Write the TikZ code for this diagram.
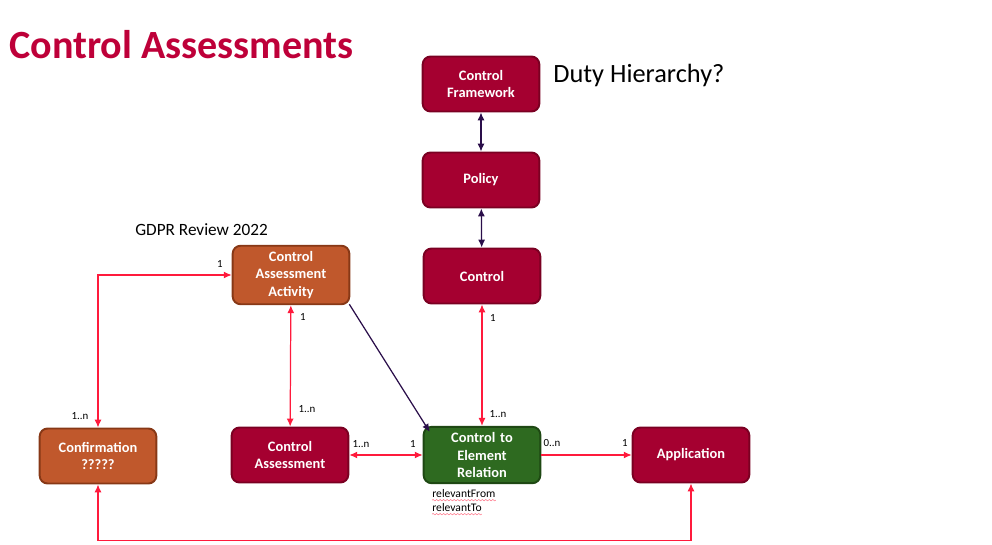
\documentclass[tikz,border=0pt]{standalone}
\usepackage{fontspec}
\setmainfont{Carlito}
\usepackage{xcolor}
\usetikzlibrary{arrows.meta,decorations.pathmorphing}

\definecolor{ctrlred}{HTML}{A50030}
\definecolor{ctrlredline}{HTML}{7A0022}
\definecolor{actorange}{HTML}{C0582C}
\definecolor{actorangeline}{HTML}{873816}
\definecolor{relgreen}{HTML}{2E6A20}
\definecolor{relgreenline}{HTML}{1E4813}
\definecolor{relred}{HTML}{FF1A3C}
\definecolor{dutypurple}{HTML}{2A0E4A}
\definecolor{titlered}{HTML}{BE0039}

\tikzset{
  entity/.style={draw, line width=1.1pt, rounded corners=4.5pt,
    minimum width=2.2cm, minimum height=1.1cm, text width=2.1cm,
    align=center, text=white, font=\fontsize{8.2}{9.8}\selectfont\bfseries},
  ctrlbox/.style={entity, fill=ctrlred, draw=ctrlredline},
  actbox/.style={entity, fill=actorange, draw=actorangeline},
  relbox/.style={entity, fill=relgreen, draw=relgreenline},
  relline/.style={relred, line width=0.7pt},
  dutyline/.style={dutypurple, line width=0.7pt},
  card/.style={font=\fontsize{6.2}{7}\selectfont, inner sep=0pt}
}

\begin{document}
\begin{tikzpicture}[x=0.02cm, y=-0.02cm, >={Latex[length=4.5pt,width=4pt]}]
  \useasboundingbox (0,0) rectangle (992,545);

  % headings
  \node[anchor=west, text=titlered, inner sep=0pt, font=\fontsize{22.8}{26}\selectfont\bfseries] (title) at (9,45) {Control Assessments};
  \node[anchor=west, inner sep=0pt, font=\fontsize{15}{17}\selectfont] (duty) at (553,75) {Duty Hierarchy?};
  \node[anchor=west, inner sep=0pt, font=\fontsize{9.8}{11}\selectfont] (gdpr) at (135,230) {GDPR Review 2022};

  % duty hierarchy
  \node[ctrlbox] (fw) at (481,84) {Control\\Framework};
  \node[ctrlbox] (pol) at (481,180) {Policy};
  \node[ctrlbox] (ctrl) at (482,276) {Control};

  % assessment side
  \node[actbox] (caa) at (291,275) {Control\\Assessment\\Activity};
  \node[actbox] (conf) at (98,456) {Confirmation\\?????};
  \node[ctrlbox] (ca) at (290,455) {Control\\Assessment};
  \node[relbox] (cter) at (482,455) {Control to\\Element\\Relation};
  \node[ctrlbox] (app) at (691,455) {Application};

  % relations
  \draw[dutyline, <->] (fw) -- (pol);
  \draw[dutyline, <->] (pol) -- (ctrl);
  \draw[relline, <->] (ctrl) -- (cter);
  \draw[relline, <->] (caa) -- (ca);
  \draw[relline, <->] (ca) -- (cter);
  \draw[relline, ->] (cter) -- (app);
  \draw[dutyline, ->] ([shift={(-1,-1)}]caa.south east) -- ([shift={(7,6)}]cter.north west);
  \draw[relline, <->] (conf.north) |- (caa.west);
  \draw[relline, <->] (conf.south) -- ++(0,56) -| (app.south);

  % multiplicities
  \node[card] (m1) at (220,264) {1};
  \node[card] (m2) at (80,416) {1..n};
  \node[card] (m3) at (303,317) {1};
  \node[card] (m4) at (307,409) {1..n};
  \node[card] (m5) at (361,444) {1..n};
  \node[card] (m6) at (413,444) {1};
  \node[card] (m7) at (493,318) {1};
  \node[card] (m8) at (498,414) {1..n};
  \node[card] (m9) at (552,443) {0..n};
  \node[card] (m10) at (625,443) {1};

  % attributes
  \node[anchor=west, inner sep=0pt, font=\fontsize{6.6}{8}\selectfont] (from) at (432,494) {relevantFrom};
  \node[anchor=west, inner sep=0pt, font=\fontsize{6.6}{8}\selectfont] (to) at (432,508) {relevantTo};
  \draw[relred!60, line width=0.3pt, decorate, decoration={snake, amplitude=0.4pt, segment length=2pt}]
    ([yshift=-1pt]from.south west) -- ([yshift=-1pt]from.south east);
  \draw[relred!60, line width=0.3pt, decorate, decoration={snake, amplitude=0.4pt, segment length=2pt}]
    ([yshift=-1pt]to.south west) -- ([yshift=-1pt]to.south east);
\end{tikzpicture}
\end{document}
